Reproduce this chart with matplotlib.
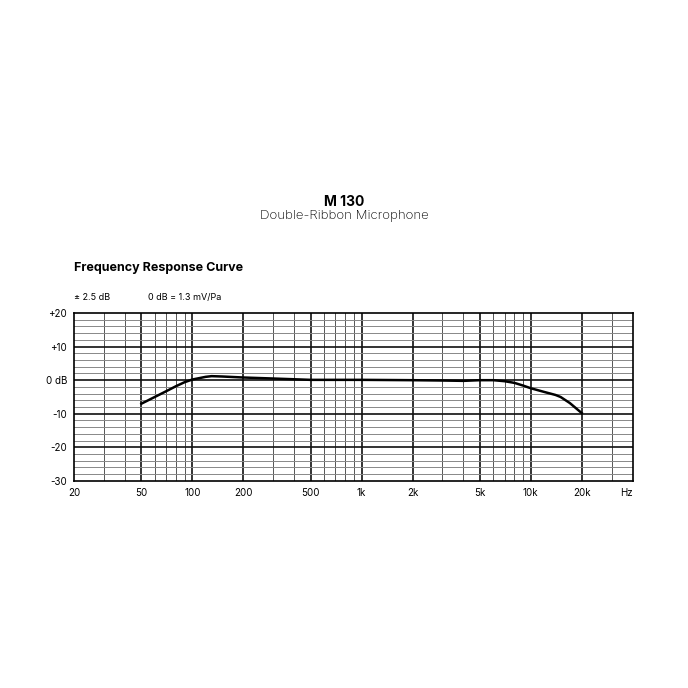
import matplotlib
matplotlib.use("Agg")
import matplotlib.pyplot as plt
import numpy as np

freq = [50, 60, 70, 80, 90, 100, 120, 130, 150, 200, 300, 500, 1000, 2000, 3000, 4000, 5000, 6000, 7000, 8000, 9000, 10000, 12000, 14000, 15000, 17000, 20000]
db = [-7, -5, -3.3, -1.8, -0.6, 0.2, 1.0, 1.2, 1.1, 0.8, 0.5, 0.1, 0.1, 0.0, -0.1, -0.2, 0.0, 0.0, -0.3, -0.8, -1.6, -2.4, -3.5, -4.4, -5.0, -6.8, -9.8]
xticks = [20, 50, 100, 200, 500, 1000, 2000, 5000, 10000, 20000]
xlabels = ["20", "50", "100", "200", "500", "1k", "2k", "5k", "10k", "20k"]
yticks = [-30, -20, -10, 0, 10, 20]
ylabels = ["-30", "-20", "-10", "0 dB", "+10", "+20"]

plt.rcParams['font.family'] = ['Inter', 'DejaVu Sans']
fig = plt.figure(figsize=(6.88, 6.88), dpi=100)
ax = fig.add_axes([0.1076, 0.301, 0.812, 0.244])
ax.set_xscale('log')
ax.set_xlim(20, 40000)
ax.set_ylim(-30, 20)

major_x = [50, 100, 200, 500, 1000, 2000, 5000, 10000, 20000]
minor_x = [30, 40, 60, 70, 80, 90, 300, 400, 600, 700, 800, 900,
           3000, 4000, 6000, 7000, 8000, 9000, 30000]
for x in minor_x:
    ax.axvline(x, color='#555555', lw=0.7)
for x in major_x:
    ax.axvline(x, color='#111111', lw=1.2)
for y in range(-28, 20, 2):
    if y % 10 == 0:
        ax.axhline(y, color='#111111', lw=1.2)
    else:
        ax.axhline(y, color='#888888', lw=0.7)

ax.plot(freq, db, color='black', lw=1.8)

ax.set_xticks(xticks)
ax.set_xticklabels(xlabels)
ax.set_xticks([], minor=True)
ax.set_yticks(yticks)
ax.set_yticklabels(ylabels)
ax.tick_params(length=0, labelsize=7, pad=5)
for s in ax.spines.values():
    s.set_linewidth(1.2)
ax.text(1.0, -0.04, "Hz", transform=ax.transAxes, ha='right', va='top', fontsize=7)

fig.text(0.5, 0.707, "M 130", ha='center', va='center', fontsize=10, fontweight='bold')
fig.text(0.5, 0.686, "Double-Ribbon Microphone", ha='center', va='center', fontsize=9.5, fontweight='light')
fig.text(0.107, 0.610, "Frequency Response Curve", ha='left', va='center', fontsize=9, fontweight='bold')
fig.text(0.107, 0.568, "± 2.5 dB", ha='left', va='center', fontsize=6.5)
fig.text(0.215, 0.568, "0 dB = 1.3 mV/Pa", ha='left', va='center', fontsize=6.5)

fig.savefig("out.png", dpi=100)
